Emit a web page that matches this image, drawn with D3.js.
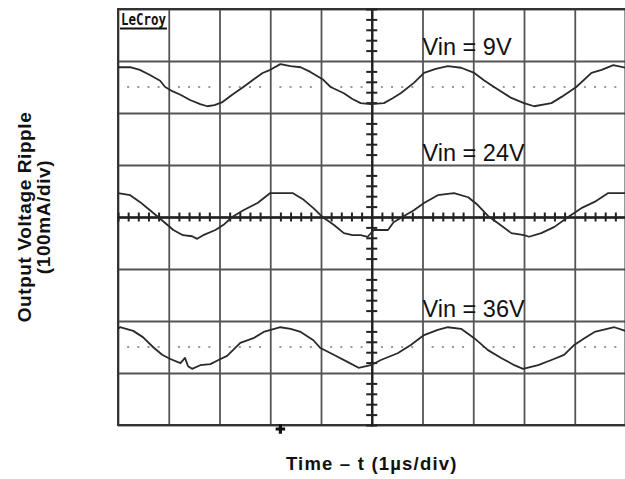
<!DOCTYPE html>
<html>
<head>
<meta charset="utf-8">
<script src="https://cdnjs.cloudflare.com/ajax/libs/d3/7.8.5/d3.min.js"></script>
<style>
  body { margin: 0; background: #fff; }
  svg { display: block; }
</style>
</head>
<body>
<div id="chart"></div>
<script>
// Scope screen: 10 x 8 divisions, time in µs (1 µs/div), level in divisions
const traceLabels = ['Vin = 9V', 'Vin = 24V', 'Vin = 36V'];
const refLevels = [2.5, 0, -2.5];
const triggerTime = 3.2;

// [time (div), level (div)]
const vin9 = [
  [0, 2.88], [0.24, 2.88], [0.43, 2.83], [0.63, 2.73], [0.83, 2.62], [0.93, 2.50],
  [1.07, 2.42], [1.23, 2.35], [1.42, 2.25], [1.62, 2.17], [1.76, 2.13], [1.90, 2.15],
  [2.06, 2.21], [2.25, 2.35], [2.47, 2.50], [2.65, 2.63], [2.85, 2.77], [3.00, 2.83],
  [3.20, 2.94], [3.40, 2.90], [3.60, 2.88], [3.79, 2.79], [4.03, 2.65], [4.19, 2.50],
  [4.45, 2.38], [4.62, 2.27], [4.78, 2.19], [4.98, 2.17], [5.24, 2.19], [5.42, 2.29],
  [5.57, 2.38], [5.83, 2.58], [6.03, 2.77], [6.26, 2.85], [6.50, 2.90], [6.76, 2.87],
  [7.02, 2.77], [7.21, 2.63], [7.41, 2.50], [7.75, 2.29], [8.00, 2.19], [8.20, 2.13],
  [8.54, 2.19], [8.74, 2.31], [9.03, 2.50], [9.33, 2.77], [9.53, 2.83], [9.76, 2.92],
  [10.0, 2.87]
];

const vin24 = [
  [0, 0.46], [0.24, 0.42], [0.43, 0.29], [0.63, 0.13], [0.79, 0], [0.97, -0.15],
  [1.09, -0.25], [1.28, -0.35], [1.46, -0.37], [1.56, -0.42], [1.68, -0.35], [1.92, -0.25],
  [2.08, -0.15], [2.25, 0], [2.47, 0.13], [2.75, 0.27], [3.00, 0.46], [3.22, 0.46],
  [3.44, 0.46], [3.66, 0.33], [3.85, 0.17], [4.03, 0], [4.25, -0.15], [4.45, -0.31],
  [4.62, -0.35], [4.78, -0.35], [4.92, -0.38], [5.04, -0.25], [5.32, -0.25], [5.43, -0.10],
  [5.57, -0.02], [5.83, 0.13], [6.03, 0.27], [6.30, 0.42], [6.62, 0.46], [6.90, 0.38],
  [7.09, 0.23], [7.29, 0.02], [7.49, -0.12], [7.75, -0.31], [8.00, -0.35], [8.10, -0.38],
  [8.34, -0.31], [8.60, -0.19], [8.87, 0], [9.13, 0.17], [9.39, 0.29], [9.66, 0.46],
  [10.0, 0.46]
];

const vin36 = [
  [0, -2.15], [0.04, -2.12], [0.30, -2.19], [0.49, -2.31], [0.69, -2.50], [0.87, -2.65],
  [1.03, -2.73], [1.23, -2.81], [1.32, -2.71], [1.38, -2.87], [1.46, -2.92], [1.62, -2.85],
  [1.82, -2.83], [1.98, -2.75], [2.15, -2.67], [2.41, -2.42], [2.67, -2.33], [2.87, -2.21],
  [3.20, -2.12], [3.40, -2.15], [3.60, -2.21], [3.85, -2.37], [3.99, -2.52], [4.25, -2.65],
  [4.53, -2.79], [4.74, -2.90], [4.98, -2.85], [5.18, -2.75], [5.51, -2.62], [5.77, -2.46],
  [6.03, -2.27], [6.30, -2.17], [6.50, -2.12], [6.76, -2.15], [7.02, -2.33], [7.29, -2.56],
  [7.55, -2.71], [7.81, -2.85], [7.98, -2.92], [8.28, -2.85], [8.54, -2.75], [8.79, -2.65],
  [8.99, -2.46], [9.19, -2.33], [9.39, -2.21], [9.78, -2.12], [10.0, -2.19]
];

const traces = [vin9, vin24, vin36];
const divsX = [0, 1, 2, 3, 4, 5, 6, 7, 8, 9, 10];
const divsY = [-4, -3, -2, -1, 0, 1, 2, 3, 4];

const W = 625, H = 479;
const plotLeft = 118, plotRight = 625.5, plotTop = 9, plotBottom = 425;

const svg = d3.select('#chart')
  .append('svg')
  .attr('width', W)
  .attr('height', H);

const x = d3.scaleLinear().domain([0, 10]).range([plotLeft, plotRight]);
const y = d3.scaleLinear().domain([-4, 4]).range([plotBottom, plotTop]);

// minor positions: every 0.2 div
const minorX = d3.range(0, 50).map(i => i / 5).filter(v => Math.abs(v - Math.round(v)) > 1e-9);
const minorY = d3.range(-20, 20).map(i => i / 5).filter(v => Math.abs(v - Math.round(v)) > 1e-9);

// Grid
svg.append('g')
  .attr('transform', `translate(0,${plotBottom})`)
  .call(d3.axisBottom(x).tickValues(divsX).tickSize(-(plotBottom - plotTop)).tickFormat(''))
  .call(g => g.select('.domain').remove())
  .call(g => g.selectAll('line').attr('stroke', '#555').attr('stroke-width', 1.8));

svg.append('g')
  .attr('transform', `translate(${plotLeft},0)`)
  .call(d3.axisLeft(y).tickValues(divsY).tickSize(-(plotRight - plotLeft)).tickFormat(''))
  .call(g => g.select('.domain').remove())
  .call(g => g.selectAll('line').attr('stroke', '#555').attr('stroke-width', 1.8));

// Border
svg.append('rect')
  .attr('x', plotLeft).attr('y', plotTop)
  .attr('width', plotRight - plotLeft).attr('height', plotBottom - plotTop)
  .attr('fill', 'none').attr('stroke', '#333').attr('stroke-width', 2);

// Centre axes with minor ticks
const cx = svg.append('g').attr('transform', `translate(0,${y(0)})`);
cx.call(d3.axisBottom(x).tickValues(minorX).tickSize(4.5).tickFormat(''));
cx.append('g').call(d3.axisTop(x).tickValues(minorX).tickSize(4.5).tickFormat(''));
cx.selectAll('.domain').attr('stroke', '#222').attr('stroke-width', 2);
cx.selectAll('line').attr('stroke', '#222').attr('stroke-width', 2);

const cy = svg.append('g').attr('transform', `translate(${x(5)},0)`);
cy.call(d3.axisLeft(y).tickValues(minorY).tickSize(5.5).tickFormat(''));
cy.append('g').call(d3.axisRight(y).tickValues(minorY).tickSize(5.5).tickFormat(''));
cy.selectAll('.domain').attr('stroke', '#222').attr('stroke-width', 2);
cy.selectAll('line').attr('stroke', '#222').attr('stroke-width', 2);

// Dotted reference levels
refLevels.filter(r => r !== 0).forEach(r => {
  svg.append('g')
    .selectAll('rect')
    .data(minorX)
    .join('rect')
    .attr('x', d => x(d) - 1)
    .attr('y', y(r) - 1)
    .attr('width', 2)
    .attr('height', 2)
    .attr('fill', '#999');
});

// Traces
const line = d3.line()
  .x(d => x(d[0]))
  .y(d => y(d[1]));

svg.append('g')
  .selectAll('path')
  .data(traces)
  .join('path')
  .attr('d', line)
  .attr('fill', 'none')
  .attr('stroke', '#2a2a2a')
  .attr('stroke-width', 1.8)
  .attr('stroke-linejoin', 'round');

// Trace labels
const labelLevels = [3.12, 1.08, -1.92];
svg.append('g')
  .selectAll('text')
  .data(traceLabels)
  .join('text')
  .attr('x', x(6.0))
  .attr('y', (d, i) => y(labelLevels[i]))
  .attr('font-family', 'Liberation Sans, Arial, sans-serif')
  .attr('font-size', 23.5)
  .attr('fill', '#111')
  .text(d => d);

// LeCroy badge
svg.append('text')
  .attr('x', plotLeft + 3)
  .attr('y', plotTop + 16)
  .attr('font-family', 'DejaVu Sans Mono, monospace')
  .attr('font-weight', 'bold')
  .attr('font-size', 15)
  .attr('textLength', 45)
  .attr('lengthAdjust', 'spacingAndGlyphs')
  .attr('fill', '#111')
  .text('LeCroy');
svg.append('line')
  .attr('x1', plotLeft + 2).attr('x2', plotLeft + 49)
  .attr('y1', plotTop + 19.5).attr('y2', plotTop + 19.5)
  .attr('stroke', '#111').attr('stroke-width', 2);

// Trigger marker
svg.append('path')
  .attr('d', d3.symbol(d3.symbolCross, 50)())
  .attr('transform', `translate(${x(triggerTime)},${plotBottom + 4})`)
  .attr('fill', '#111');

// Axis titles
svg.append('text')
  .attr('x', x(5))
  .attr('y', 470)
  .attr('text-anchor', 'middle')
  .attr('font-family', 'Liberation Sans, Arial, sans-serif')
  .attr('font-weight', 'bold')
  .attr('font-size', 18.5)
  .attr('letter-spacing', 1.2)
  .attr('fill', '#111')
  .text('Time – t (1µs/div)');

const yTitle = svg.append('g')
  .attr('transform', `translate(0,${y(0)}) rotate(-90)`)
  .attr('font-family', 'Liberation Sans, Arial, sans-serif')
  .attr('font-weight', 'bold')
  .attr('font-size', 19)
  .attr('letter-spacing', 0.6)
  .attr('fill', '#111')
  .attr('text-anchor', 'middle');
yTitle.append('text').attr('x', 0).attr('y', 31).text('Output Voltage Ripple');
yTitle.append('text').attr('x', 0).attr('y', 50).text('(100mA/div)');
</script>
</body>
</html>
